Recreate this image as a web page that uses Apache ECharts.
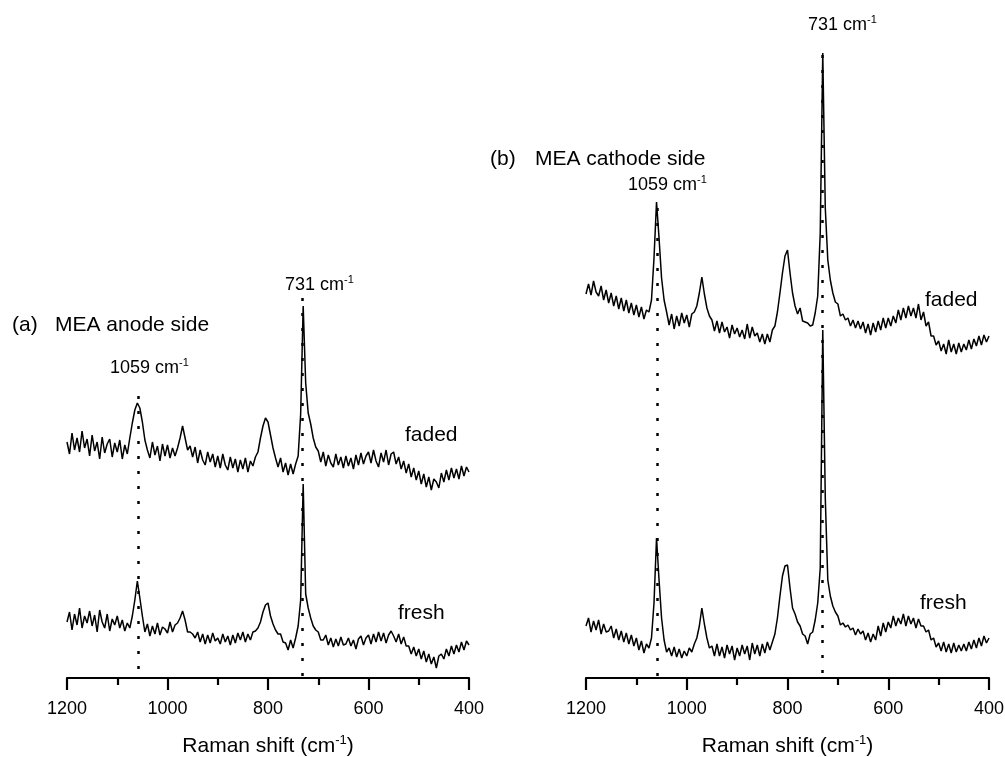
<!DOCTYPE html>
<html>
<head>
<meta charset="utf-8">
<script src="https://cdn.jsdelivr.net/npm/echarts@6/dist/echarts.min.js"></script>
<style>
html,body{margin:0;padding:0;background:#fff;}
#chart{width:1005px;height:757px;}
</style>
</head>
<body>
<div id="chart"></div>
<script>
// Raman shift sampling (cm-1), x axis runs 1200 -> 400
const SHIFT = [
1200,1195,1190,1185,1180,1175,1170,1165,1160,1155,
1150,1145,1140,1135,1130,1125,1120,1115,1110,1105,
1100,1095,1090,1085,1080,1075,1070,1065,1060,1055,
1050,1045,1040,1035,1030,1025,1020,1015,1010,1005,
1000,995,990,985,980,975,970,965,960,955,
950,945,940,935,930,925,920,915,910,905,
900,895,890,885,880,875,870,865,860,855,
850,845,840,835,830,825,820,815,810,805,
800,795,790,785,780,775,770,765,760,755,
750,745,740,735,730,725,720,715,710,705,
700,695,690,685,680,675,670,665,660,655,
650,645,640,635,630,625,620,615,610,605,
600,595,590,585,580,575,570,565,560,555,
550,545,540,535,530,525,520,515,510,505,
500,495,490,485,480,475,470,465,460,455,
450,445,440,435,430,425,420,415,410,405,400
];
const X_TICKS = [1200, 1000, 800, 600, 400];

// (a) MEA anode side, intensity (a.u., offset)
const ANODE_FADED = [
236,224,245,228,240,226,247,230,239,222,
243,227,236,219,241,225,234,239,221,235,
226,238,219,233,224,240,255,268,275,270,
256,238,228,220,236,223,232,217,234,222,
233,220,230,222,230,240,252,240,228,232,
221,231,215,228,218,213,226,216,224,211,
222,210,224,213,208,221,210,219,206,218,
209,220,206,217,212,221,226,240,252,260,
256,243,230,220,211,220,206,215,203,214,
204,214,222,264,372,295,265,254,240,231,
227,216,226,212,223,215,211,224,213,221,
210,222,212,220,209,223,213,225,214,222,
226,215,228,217,211,225,216,228,213,224,
226,214,221,209,217,205,214,201,210,198,
207,194,204,191,201,188,199,196,190,205,
196,208,198,210,200,209,199,212,202,211,206
];
const ANODE_FRESH = [
56,66,48,64,53,70,50,62,55,67,
52,63,46,68,56,50,64,47,59,53,
62,50,58,47,55,50,62,78,97,80,
62,46,54,42,52,44,55,43,51,49,
45,56,46,53,55,60,67,58,46,46,
44,40,46,36,44,34,43,35,45,37,
40,34,44,36,42,33,43,35,45,38,
46,36,44,38,46,47,50,56,66,73,
75,62,54,48,44,44,36,35,28,38,
30,40,52,78,194,84,70,60,52,48,
46,38,38,43,33,40,31,39,32,41,
33,34,40,32,38,29,39,42,33,40,
43,34,44,36,46,37,45,35,43,47,
42,36,44,34,41,32,32,24,31,22,
29,19,27,16,24,14,21,10,22,24,
19,29,22,32,24,33,26,36,28,37,33
];
// (b) MEA cathode side
const CATHODE_FADED = [
384,394,383,397,386,382,392,378,388,375,
385,372,382,369,380,367,378,365,375,363,
373,361,371,359,368,366,378,420,476,440,
400,378,366,353,364,349,362,352,365,355,
363,351,364,366,372,385,401,384,370,362,
358,347,357,345,356,346,351,340,353,344,
350,341,348,339,354,340,351,342,345,336,
344,334,344,336,348,352,366,385,405,422,
428,405,385,372,364,370,357,356,355,352,
353,365,382,445,625,470,418,398,385,376,
374,362,364,358,360,352,358,350,357,349,
356,345,354,343,355,346,357,348,360,350,
360,352,362,355,368,358,370,360,372,362,
370,360,374,358,366,352,356,342,342,333,
337,327,334,324,338,326,334,324,335,326,
334,328,338,329,339,332,342,333,343,336,342
];
const CATHODE_FRESH = [
52,60,46,57,48,58,44,54,46,47,
52,40,49,38,47,36,45,34,43,32,
40,28,37,25,34,30,40,75,140,98,
60,38,26,30,22,31,21,29,20,27,
22,30,26,34,40,52,70,54,40,30,
32,22,34,22,31,20,33,24,32,18,
30,22,33,24,32,18,35,24,33,22,
34,25,36,28,36,44,60,82,102,112,
113,90,70,64,56,52,44,42,34,44,
46,58,75,110,348,180,98,82,72,66,
62,53,55,51,53,48,50,43,49,44,
47,38,45,36,44,38,52,42,55,46,
56,50,62,52,60,54,64,52,62,54,
60,50,59,52,52,46,48,38,40,31,
35,27,36,26,34,25,35,26,33,27,
34,27,36,29,38,30,40,32,42,35,40
];
// marked bands (cm-1) and the intensity where each dotted guide starts
const BANDS = [1059, 731];
const GUIDE_TOP_ANODE = [282, 380];
const GUIDE_TOP_CATHODE = [470, 623];

const FONT = '"Liberation Sans", Arial, Helvetica, sans-serif';
const YMAX = 678;

function pairs(arr){ return SHIFT.map((x,i)=>[x, arr[i]]); }

function xAxisFor(idx){
  return {
    gridIndex: idx, type: 'value', inverse: true,
    min: 400, max: 1200, interval: 200,
    axisLine: {show: true, onZero: false, lineStyle: {color: '#000', width: 2.2}},
    axisTick: {show: true, length: 12, lineStyle: {color: '#000', width: 2.2}},
    minorTick: {show: true, splitNumber: 2, length: 7, lineStyle: {color: '#000', width: 2.2}},
    splitLine: {show: false}, minorSplitLine: {show: false},
    axisLabel: {fontSize: 18, color: '#000', fontFamily: FONT, margin: 22,
      showMinLabel: true, showMaxLabel: true,
      formatter: v => X_TICKS.includes(v) ? String(v) : ''},
    name: 'Raman shift (cm{s|-1})',
    nameLocation: 'middle', nameGap: 56,
    nameTextStyle: {fontSize: 21, color: '#000', fontFamily: FONT, lineHeight: 24,
      rich: {s: {fontSize: 13, color: '#000', fontFamily: FONT, verticalAlign: 'top', lineHeight: 24}}}
  };
}
function yAxisFor(idx){
  return {gridIndex: idx, type: 'value', min: 0, max: YMAX, show: false};
}
function guides(tops){
  return {
    silent: true, symbol: ['none','none'],
    label: {show: false},
    lineStyle: {color: '#000', width: 2.5, type: [3, 12]},
    data: BANDS.map((b,i)=>[{coord:[b, tops[i]]},{coord:[b, 0]}])
  };
}
function line(name, arr, idx, ml){
  const s = {
    name, type: 'line', xAxisIndex: idx, yAxisIndex: idx,
    data: pairs(arr), showSymbol: false, symbol: 'none',
    lineStyle: {color: '#000', width: 1.5}, itemStyle: {color: '#000'},
    animation: false, clip: false
  };
  if (ml) s.markLine = ml;
  return s;
}
function txt(x, y, text, size){
  return {type: 'text', x, y, silent: true,
    style: {text, fill: '#000', font: size + 'px ' + FONT,
      fontSize: size, fontFamily: FONT,
      textVerticalAlign: 'middle', verticalAlign: 'middle', lineHeight: size + 4,
      rich: {s: {fontSize: Math.round(size*0.62), fill: '#000', fontFamily: FONT, verticalAlign: 'top', lineHeight: size + 4}}}};
}

const chart = echarts.init(document.getElementById('chart'), null, {renderer: 'canvas'});
const option = {
  animation: false,
  backgroundColor: '#fff',
  grid: [
    {left: 67, width: 402, top: 0, height: YMAX, containLabel: false, outerBoundsMode: 'none'},
    {left: 586, width: 403, top: 0, height: YMAX, containLabel: false, outerBoundsMode: 'none'}
  ],
  xAxis: [xAxisFor(0), xAxisFor(1)],
  yAxis: [yAxisFor(0), yAxisFor(1)],
  series: [
    line('anode faded', ANODE_FADED, 0, guides(GUIDE_TOP_ANODE)),
    line('anode fresh', ANODE_FRESH, 0),
    line('cathode faded', CATHODE_FADED, 1, guides(GUIDE_TOP_CATHODE)),
    line('cathode fresh', CATHODE_FRESH, 1)
  ],
  graphic: [
    txt(12, 325, '(a)', 21),
    txt(55, 325, 'MEA anode side', 21),
    txt(110, 368, '1059 cm{s|-1}', 18),
    txt(285, 285, '731 cm{s|-1}', 18),
    txt(405, 435, 'faded', 21),
    txt(398, 613, 'fresh', 21),
    txt(490, 159, '(b)', 21),
    txt(535, 159, 'MEA cathode side', 21),
    txt(628, 185, '1059 cm{s|-1}', 18),
    txt(808, 25, '731 cm{s|-1}', 18),
    txt(925, 300, 'faded', 21),
    txt(920, 603, 'fresh', 21)
  ]
};
const lens = [ANODE_FADED, ANODE_FRESH, CATHODE_FADED, CATHODE_FRESH].map(a=>a.length);
if (lens.some(l => l !== SHIFT.length)) {
  option.graphic.push(txt(300, 20, 'LEN MISMATCH ' + SHIFT.length + ' ' + lens.join(','), 14));
}
chart.setOption(option);
</script>
</body>
</html>
